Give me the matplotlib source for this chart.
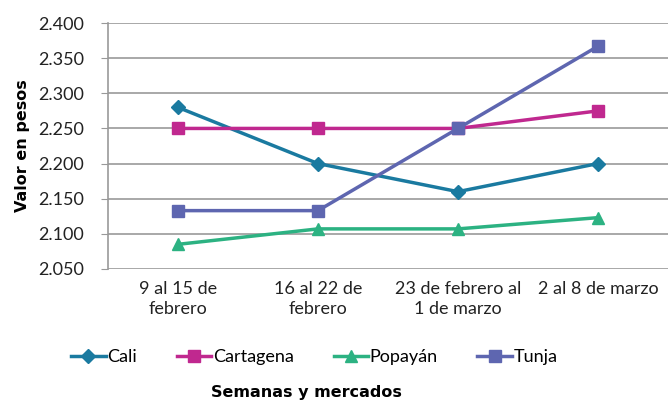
import matplotlib.pyplot as plt
from matplotlib.ticker import FuncFormatter, MultipleLocator

# Data
semanas = ["9 al 15 de\nfebrero", "16 al 22 de\nfebrero", "23 de febrero al\n1 de marzo", "2 al 8 de marzo"]
cali = [2280, 2200, 2160, 2200]
cartagena = [2250, 2250, 2250, 2275]
popayan = [2085, 2107, 2107, 2123]
tunja = [2133, 2133, 2250, 2367]

plt.rcParams['font.family'] = ['Lato', 'DejaVu Sans']

fig = plt.figure(figsize=(6.69, 4.05), dpi=100)
ax = fig.add_axes([0.1614, 0.336, 0.837, 0.607])

x = range(len(semanas))
ax.plot(x, cali, color="#1a7aa0", marker="D", markersize=7, linewidth=2.5, label="Cali")
ax.plot(x, cartagena, color="#c0288f", marker="s", markersize=9, linewidth=2.5, label="Cartagena")
ax.plot(x, popayan, color="#2cb282", marker="^", markersize=9, linewidth=2.5, label="Popayán")
ax.plot(x, tunja, color="#5e66b0", marker="s", markersize=9, linewidth=2.5, label="Tunja")

ax.set_xlim(-0.5, len(semanas) - 0.5)
ax.set_ylim(2050, 2400)
ax.yaxis.set_major_locator(MultipleLocator(50))
ax.yaxis.set_major_formatter(FuncFormatter(lambda v, p: f"{v:,.0f}".replace(",", ".")))
ax.set_xticks(list(x))
ax.set_xticklabels(semanas, fontsize=13, color="#222222", linespacing=1.3)
ax.tick_params(axis="y", labelsize=13, colors="#222222", length=5, color="#999999", pad=12)
ax.tick_params(axis="x", length=0, pad=9)

ax.grid(axis="y", color="#999999", linewidth=1.2)
ax.set_axisbelow(True)
for s in ["top", "right", "bottom"]:
    ax.spines[s].set_visible(False)
ax.spines["left"].set_color("#999999")
ax.spines["left"].set_linewidth(1.2)

ax.set_ylabel("Valor en pesos", fontsize=11.5, fontweight="bold", family="DejaVu Sans", labelpad=6)

fig.legend(loc="center", bbox_to_anchor=(0.47, 0.118), ncol=4, frameon=False,
           fontsize=13, columnspacing=2.2, handlelength=1.9, handletextpad=0.1)
fig.text(0.458, 0.03, "Semanas y mercados", ha="center", va="center",
         fontsize=11.5, fontweight="bold", family="DejaVu Sans")

fig.savefig("out.png", dpi=100)
